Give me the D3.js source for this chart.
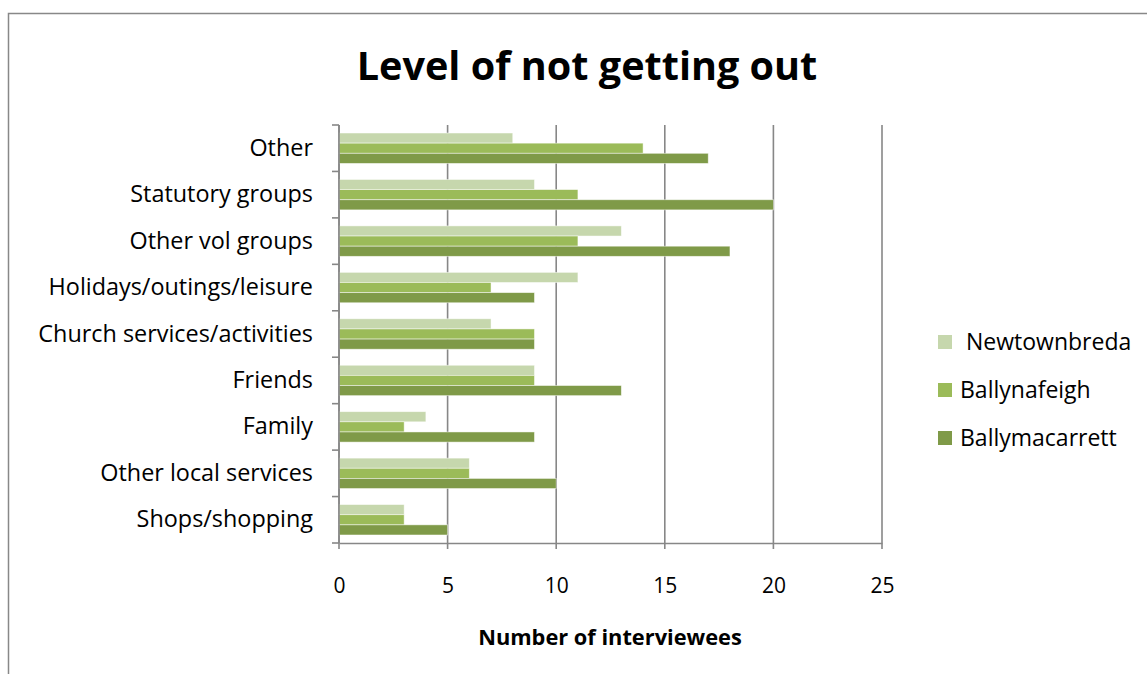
<!DOCTYPE html>
<html><head><meta charset="utf-8">
<script src="https://cdn.jsdelivr.net/npm/d3@7"></script>
<style>body{margin:0;background:#fff;} svg{display:block;font-family:"Open Sans","Liberation Sans",sans-serif;}</style>
</head><body>
<svg id="c" width="1147" height="674"></svg>
<script>
const categories = ["Other","Statutory groups","Other vol groups","Holidays/outings/leisure","Church services/activities","Friends","Family","Other local services","Shops/shopping"];
const seriesNames = ["Newtownbreda","Ballynafeigh","Ballymacarrett"];
const newtownbreda = [8,9,13,11,7,9,4,6,3];
const ballynafeigh = [14,11,11,7,9,9,3,6,3];
const ballymacarrett = [17,20,18,9,9,13,9,10,5];
const xTicks = [0,5,10,15,20,25];
const colors = ["#C6D7AD","#9BBB59","#7F9A48"];

const svg = d3.select("#c");
svg.append("path").attr("d","M8.5,674 L8.5,13.5 L1147,13.5").attr("fill","none").attr("stroke","#888").attr("stroke-width",1.5);

const m = {l:339, r:882, t:125, b:543};
const x = d3.scaleLinear().domain([0,25]).range([m.l,m.r]);
const y = d3.scaleBand().domain(categories).range([m.t,m.b]);
const sub = d3.scaleBand().domain(seriesNames).range([0,y.bandwidth()]).paddingInner(0).paddingOuter(0.79);

svg.append("g").selectAll("line").data(xTicks).join("line")
  .attr("x1",d=>x(d)).attr("x2",d=>x(d)).attr("y1",m.t).attr("y2",m.b+6)
  .attr("stroke","#878787").attr("stroke-width",1.6);

const data = [newtownbreda,ballynafeigh,ballymacarrett];
seriesNames.forEach((s,i)=>{
  svg.append("g").selectAll("rect").data(categories).join("rect")
    .attr("x",x(0)).attr("y",c=>y(c)+sub(s))
    .attr("width",(c,j)=>x(data[i][j])-x(0)).attr("height",sub.bandwidth())
    .attr("fill",colors[i]).attr("stroke","#fff").attr("stroke-opacity",0.6).attr("stroke-width",0.8);
});

const ya = d3.axisLeft(y).tickSize(0).tickPadding(26);
const yg = svg.append("g").attr("transform",`translate(${m.l},0)`).call(ya);
yg.select(".domain").remove();
yg.selectAll("text").attr("font-size",23.4).attr("fill","#000").attr("font-family","'Open Sans',sans-serif");
svg.append("line").attr("x1",m.l).attr("x2",m.l).attr("y1",m.t).attr("y2",m.b).attr("stroke","#878787").attr("stroke-width",1.6);
const bounds = categories.map(c=>y(c)).concat([m.b]);
svg.append("g").selectAll("line").data(bounds).join("line")
  .attr("x1",m.l-7).attr("x2",m.l).attr("y1",d=>d).attr("y2",d=>d)
  .attr("stroke","#878787").attr("stroke-width",1.6);
const xa = d3.axisBottom(x).tickValues(xTicks).tickSize(0).tickPadding(35);
const xg = svg.append("g").attr("transform",`translate(0,${m.b})`).call(xa);
xg.select(".domain").attr("stroke","#878787").attr("stroke-width",1.6);
xg.selectAll("text").attr("font-size",21).attr("fill","#000").attr("font-family","'Open Sans',sans-serif");

svg.append("text").attr("x",587).attr("y",80).attr("text-anchor","middle")
  .attr("font-size",39.6).attr("font-weight","bold").text("Level of not getting out");
svg.append("text").attr("x",610).attr("y",645).attr("text-anchor","middle")
  .attr("font-size",21.8).attr("font-weight","bold").text("Number of interviewees");

const lg = svg.append("g");
seriesNames.forEach((s,i)=>{
  const yy = 342 + i*48;
  lg.append("rect").attr("x",938).attr("y",yy-7).attr("width",14).attr("height",14).attr("fill",colors[i]);
  lg.append("text").attr("x", i===0?966:960).attr("y",yy+8).attr("font-size",23).text(s);
});
</script>
</body></html>
